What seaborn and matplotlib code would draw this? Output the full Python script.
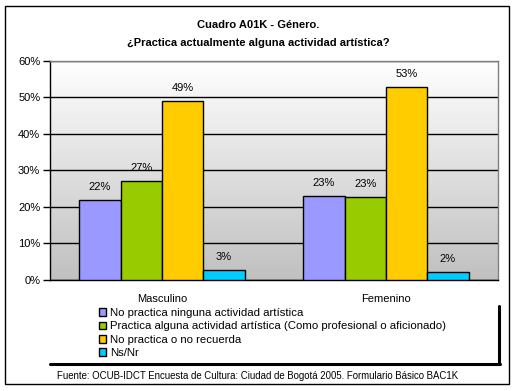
import numpy as np
import pandas as pd
import matplotlib
matplotlib.use('Agg')
import matplotlib.pyplot as plt
from matplotlib.lines import Line2D
from matplotlib.patches import Rectangle
import seaborn as sns

# Data
generos = ['Masculino', 'Femenino']
respuestas = [
    'No practica ninguna actividad artística',
    'Practica alguna actividad artística (Como profesional o aficionado)',
    'No practica o no recuerda',
    'Ns/Nr',
]
masculino = [21.8, 27.0, 48.9, 2.6]
femenino = [22.9, 22.6, 52.8, 2.1]
colores = ['#9999FF', '#99CC00', '#FFCC00', '#00CCFF']
yticks = [0, 10, 20, 30, 40, 50, 60]

df = pd.DataFrame({
    'genero': np.repeat(generos, len(respuestas)),
    'respuesta': respuestas * len(generos),
    'valor': masculino + femenino,
})

sns.set_style('white')
plt.rcParams['font.family'] = ['Liberation Sans', 'DejaVu Sans']
plt.rcParams['text.color'] = 'black'
plt.rcParams['xtick.color'] = 'black'
plt.rcParams['ytick.color'] = 'black'

W, H = 515, 391
fig = plt.figure(figsize=(W / 100, H / 100), dpi=100)
ax = fig.add_axes([50 / W, (H - 280) / H, 448 / W, 219.3 / H])

# gradient background of the plot area
grad = np.linspace(0, 1, 256).reshape(-1, 1)
ax.imshow(grad, extent=[0, 1, 0, 1], transform=ax.transAxes, aspect='auto',
          cmap=matplotlib.colors.LinearSegmentedColormap.from_list('g', ['#C0C0C0', '#FFFFFF']),
          origin='lower', zorder=0)

sns.barplot(data=df, x='genero', y='valor', hue='respuesta', hue_order=respuestas,
            order=generos, palette=colores, width=0.737, gap=0, saturation=1,
            edgecolor='black', linewidth=1, errorbar=None, ax=ax, zorder=3)

for c in ax.containers:
    ax.bar_label(c, labels=[f'{v:.0f}%' for v in c.datavalues], padding=6,
                 fontsize=8, color='black')

ax.set_xlim(-0.5, 1.5)
ax.set_ylim(0, 60)
ax.set_yticks(yticks)
ax.set_yticklabels([f'{v}%' for v in yticks], fontsize=8)
ax.yaxis.grid(True, color='black', linewidth=1, zorder=1)
ax.set_axisbelow(True)
ax.set_xticks([0, 1])
ax.set_xticklabels(['Masculino', 'Femenino'], fontsize=8)
ax.set_xticks([-0.5, 0.5, 1.5], minor=True)
ax.tick_params(axis='x', which='major', length=0, pad=10)
ax.tick_params(axis='x', which='minor', length=4, width=1, direction='out', color='black')
ax.tick_params(axis='y', length=5, width=1, direction='out', color='black', pad=2, left=True)
ax.set_xlabel('')
ax.set_ylabel('')
for s in ['left', 'bottom']:
    ax.spines[s].set_color('black')
    ax.spines[s].set_linewidth(1)
for s in ['top', 'right']:
    ax.spines[s].set_color('#808080')
    ax.spines[s].set_linewidth(1)

handles, labels = ax.get_legend_handles_labels()
ax.legend_.remove()
fig.legend(handles, labels, loc='upper left', bbox_to_anchor=(99 / W, 1 - 308 / H),
           frameon=False, fontsize=8.2, handlelength=0.65, handleheight=0.65,
           handletextpad=0.35, labelspacing=0.3, borderaxespad=0, borderpad=0)

# legend shadow lines
fig.add_artist(Line2D([499 / W, 499 / W], [1 - 306 / H, 1 - 364 / H], color='black',
                      linewidth=2.2, transform=fig.transFigure))
fig.add_artist(Line2D([50 / W, 500 / W], [1 - 364 / H, 1 - 364 / H], color='black',
                      linewidth=2.2, transform=fig.transFigure))

# title and source
fig.text(258 / W, 1 - 25 / H, 'Cuadro A01K - Género.', ha='center', va='center',
         fontsize=8, fontweight='bold')
fig.text(258 / W, 1 - 43 / H, '¿Practica actualmente alguna actividad artística?',
         ha='center', va='center', fontsize=8, fontweight='bold')
fig.text(57 / W, 1 - 376 / H,
         'Fuente: OCUB-IDCT Encuesta de Cultura: Ciudad de Bogotá 2005. Formulario Básico BAC1K',
         ha='left', va='center', fontsize=6.9)

# outer border
fig.add_artist(Rectangle((5 / W, 1 - 384 / H), 504 / W, 378 / H, fill=False,
                         edgecolor='black', linewidth=1, transform=fig.transFigure))

fig.savefig('out.png', dpi=100)
